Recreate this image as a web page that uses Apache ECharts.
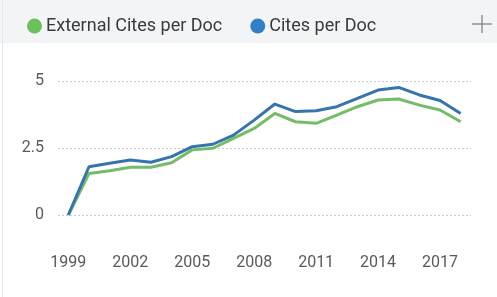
<!DOCTYPE html>
<html>
<head>
<meta charset="utf-8">
<script src="https://cdn.jsdelivr.net/npm/echarts@6/dist/echarts.min.js"></script>
<style>
  html, body { margin: 0; padding: 0; background: #fff; }
  #chart { width: 497px; height: 297px; }
</style>
</head>
<body>
<div id="chart"></div>
<script>
var years = ['1999', '2000', '2001', '2002', '2003', '2004', '2005', '2006', '2007', '2008',
  '2009', '2010', '2011', '2012', '2013', '2014', '2015', '2016', '2017', '2018']
var externalCites = [0, 1.55, 1.65, 1.78, 1.78, 1.95, 2.43, 2.49, 2.86, 3.23,
  3.79, 3.48, 3.42, 3.73, 4.04, 4.29, 4.33, 4.10, 3.92, 3.48]
var cites = [0, 1.80, 1.93, 2.05, 1.97, 2.18, 2.55, 2.64, 2.98, 3.54,
  4.14, 3.86, 3.89, 4.04, 4.35, 4.66, 4.76, 4.48, 4.27, 3.79]
var yTicks = [0, 2.5, 5]

var chart = echarts.init(document.getElementById('chart'))
var option = {
  animation: false,
  graphic: [
    {
      type: 'rect',
      z: -10,
      shape: { x: 0, y: 0, width: 497, height: 43 },
      style: { fill: '#f3f4f6' }
    },
    {
      type: 'rect',
      z: -10,
      shape: { x: 2, y: 0, width: 1, height: 297 },
      style: { fill: '#e6e7ea' }
    },
    // the "+" button, top right
    {
      type: 'line',
      shape: { x1: 472, y1: 24, x2: 492, y2: 24 },
      style: { stroke: '#909296', lineWidth: 1.5 }
    },
    {
      type: 'line',
      shape: { x1: 482, y1: 15, x2: 482, y2: 33 },
      style: { stroke: '#909296', lineWidth: 1.5 }
    }
  ],
  legend: {
    left: 22,
    top: 12,
    icon: 'circle',
    itemWidth: 15,
    itemHeight: 15,
    itemGap: 28,
    textStyle: { fontSize: 18, color: '#3a3a3a', fontFamily: 'Roboto', padding: [0, 0, 0, -1] },
    data: ['External Cites per Doc', 'Cites per Doc']
  },
  grid: {
    left: 58,
    right: 26,
    top: 81,
    bottom: 82
  },
  xAxis: {
    type: 'category',
    data: years,
    boundaryGap: true,
    axisLine: { show: false },
    axisTick: { show: false },
    axisLabel: {
      interval: 2,
      color: '#5a5a5a',
      fontSize: 16,
      fontFamily: 'Roboto',
      margin: 40
    }
  },
  yAxis: {
    type: 'value',
    min: 0,
    max: 5,
    interval: 2.5,
    axisLine: { show: false },
    axisTick: { show: false },
    axisLabel: {
      color: '#5a5a5a',
      fontSize: 16,
      fontFamily: 'Roboto',
      margin: 14,
      formatter: function (v) { return yTicks.indexOf(v) >= 0 ? String(v) : '' }
    },
    splitLine: {
      lineStyle: { color: '#c8cacd', type: [2, 2], width: 1 }
    }
  },
  series: [
    {
      name: 'External Cites per Doc',
      type: 'line',
      data: externalCites,
      symbol: 'none',
      color: '#6cc05c',
      lineStyle: { width: 3, color: '#74bd66' }
    },
    {
      name: 'Cites per Doc',
      type: 'line',
      data: cites,
      symbol: 'none',
      color: '#2f80c8',
      lineStyle: { width: 3, color: '#3574ad' }
    }
  ]
}
chart.setOption(option)
</script>
</body>
</html>
